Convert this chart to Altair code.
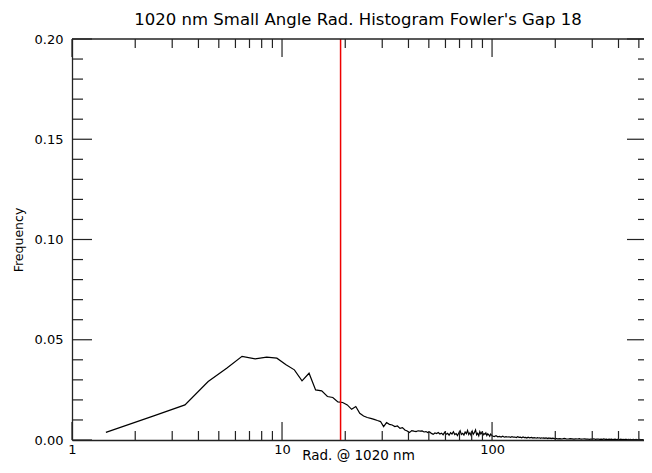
import altair as alt
import pandas as pd

# ---- data ----
# histogram bins of width 1 (centres at n + 0.45) for n = 1..99
bins_a = list(range(1, 100))
freq_a = [
    0.0038, 0.0120, 0.0175, 0.0292, 0.0358, 0.0417, 0.0405, 0.0413, 0.0408, 0.0375,
    0.0350, 0.0295, 0.0333, 0.0250, 0.0245, 0.0217, 0.0212, 0.0190, 0.0187, 0.0175,
    0.0153, 0.0167, 0.0133, 0.0120, 0.0112, 0.0108, 0.0103, 0.0097, 0.0092, 0.0067,
    0.0087, 0.0078, 0.0075, 0.0067, 0.0070, 0.0058, 0.0062, 0.0050, 0.0045, 0.0037,
    0.0047, 0.0044, 0.0042, 0.0046, 0.0044, 0.0045, 0.0040, 0.0042, 0.0037, 0.0040,
    0.0033, 0.0028, 0.0035, 0.0032, 0.0037, 0.0030, 0.0034, 0.0026, 0.0038, 0.0029,
    0.0033, 0.0024, 0.0036, 0.0030, 0.0041, 0.0027, 0.0032, 0.0022, 0.0035, 0.0046,
    0.0028, 0.0033, 0.0025, 0.0040, 0.0031, 0.0048, 0.0027, 0.0036, 0.0023, 0.0044,
    0.0029, 0.0037, 0.0050, 0.0026, 0.0034, 0.0021, 0.0042, 0.0030, 0.0038, 0.0024,
    0.0033, 0.0028, 0.0036, 0.0022, 0.0031, 0.0026, 0.0019, 0.0029, 0.0024,
]
# bins 100..198 (every second bin)
bins_b = list(range(100, 200, 2))
freq_b = [
    0.0020, 0.0017, 0.0021, 0.0016, 0.0018, 0.0015, 0.0019, 0.0014, 0.0017, 0.0015,
    0.0016, 0.0013, 0.0017, 0.0014, 0.0015, 0.0012, 0.0016, 0.0013, 0.0014, 0.0011,
    0.0015, 0.0012, 0.0013, 0.0010, 0.0014, 0.0011, 0.0012, 0.0013, 0.0010, 0.0012,
    0.0011, 0.0009, 0.0012, 0.0010, 0.0011, 0.0008, 0.0011, 0.0009, 0.0010, 0.0008,
    0.0010, 0.0009, 0.0007, 0.0010, 0.0008, 0.0009, 0.0007, 0.0009, 0.0008, 0.0007,
]
# bins 200..525 (every fifth bin)
bins_c = list(range(200, 526, 5))
freq_c = [
    0.0008, 0.0006, 0.0007, 0.0005, 0.0008, 0.0006, 0.0005, 0.0007, 0.0006, 0.0004,
    0.0006, 0.0005, 0.0007, 0.0004, 0.0005, 0.0006, 0.0004, 0.0005, 0.0003, 0.0005,
    0.0004, 0.0006, 0.0003, 0.0004, 0.0005, 0.0003, 0.0004, 0.0003, 0.0005, 0.0003,
    0.0004, 0.0002, 0.0004, 0.0003, 0.0004, 0.0002, 0.0003, 0.0004, 0.0002, 0.0003,
    0.0003, 0.0002, 0.0004, 0.0002, 0.0003, 0.0002, 0.0003, 0.0003, 0.0002, 0.0003,
    0.0002, 0.0003, 0.0002, 0.0002, 0.0003, 0.0002, 0.0002, 0.0003, 0.0001, 0.0002,
    0.0002, 0.0003, 0.0001, 0.0002, 0.0002, 0.0001,
]
marker_rad = [19.0]

x_major = [1, 10, 100]
x_minor = [2, 3, 4, 5, 6, 7, 8, 9, 20, 30, 40, 50, 60, 70, 80, 90, 200, 300, 400, 500]
y_major = [0.0, 0.05, 0.10, 0.15, 0.20]
y_minor = [0.01, 0.02, 0.03, 0.04, 0.06, 0.07, 0.08, 0.09, 0.11, 0.12, 0.13, 0.14,
           0.16, 0.17, 0.18, 0.19]

# ---- build tables ----
rad = [n + 0.45 for n in bins_a + bins_b + bins_c]
freq = freq_a + freq_b + freq_c
df = pd.DataFrame({"rad": rad, "freq": freq})

W, H = 572, 401
FONT = "DejaVu Sans"
xs = alt.Scale(type="log", domain=[1, 529])
ys = alt.Scale(domain=[0, 0.2])
TICK = "#222"

line = alt.Chart(df).mark_line(color="black", strokeWidth=1.2, clip=True).encode(
    x=alt.X("rad:Q", scale=xs,
            axis=alt.Axis(values=x_major, format="d", title="Rad. @ 1020 nm",
                          ticks=False, grid=False, labelPadding=3, labelFlush=False,
                          labelOverlap=False, titleY=15, titleBaseline="middle",
                          titleFontSize=13.5)),
    y=alt.Y("freq:Q", scale=ys,
            axis=alt.Axis(values=y_major, format=".2f", title="Frequency",
                          ticks=False, grid=False, labelPadding=9, labelFlush=False,
                          labelOverlap=False, titleX=-54, titleY=H / 2,
                          titleBaseline="middle", titleAlign="center",
                          titleFontSize=12.5)),
)

marker = alt.Chart(pd.DataFrame({"rad": marker_rad})).mark_rule(
    color="#ee0000", strokeWidth=1.5).encode(x=alt.X("rad:Q", scale=xs))


def xticks(vals, length):
    d = pd.DataFrame({"rad": vals})
    bottom = alt.Chart(d).mark_rule(color=TICK, strokeWidth=1.2).encode(
        x=alt.X("rad:Q", scale=xs), y=alt.value(H), y2=alt.value(H - length))
    top = alt.Chart(d).mark_rule(color=TICK, strokeWidth=1.2).encode(
        x=alt.X("rad:Q", scale=xs), y=alt.value(0), y2=alt.value(length))
    return [bottom, top]


def yticks(vals, length, rlen):
    d = pd.DataFrame({"freq": vals})
    left = alt.Chart(d).mark_rule(color=TICK, strokeWidth=1.2).encode(
        y=alt.Y("freq:Q", scale=ys), x=alt.value(0), x2=alt.value(length))
    right = alt.Chart(d).mark_rule(color=TICK, strokeWidth=1.2).encode(
        y=alt.Y("freq:Q", scale=ys), x=alt.value(W - rlen), x2=alt.value(W))
    return [left, right]


top_border = alt.Chart(pd.DataFrame({"freq": [0.2]})).mark_rule(
    color=TICK, strokeWidth=1.3).encode(x=alt.value(0), x2=alt.value(W), y=alt.value(0))

chart = alt.layer(
    line, marker,
    *xticks(x_major, 18), *xticks(x_minor, 9),
    *yticks(y_major, 20, 17), *yticks(y_minor, 11, 6),
    top_border,
).properties(
    width=W, height=H,
    autosize=alt.AutoSizeParams(type="none"),
    padding={"left": 64, "top": 31, "right": 0, "bottom": 25},
    title=alt.TitleParams("1020 nm Small Angle Rad. Histogram Fowler's Gap 18",
                          font=FONT, fontSize=16.5, fontWeight="normal", color="black",
                          anchor="middle", offset=5),
).configure_view(stroke=None).configure_axis(
    labelFont=FONT, titleFont=FONT, labelFontSize=13,
    titleFontWeight="normal", labelColor="black", titleColor="black",
    domainColor=TICK, domainWidth=1.3,
)

chart.save("out.html", embed_options={"renderer": "svg", "actions": False})
